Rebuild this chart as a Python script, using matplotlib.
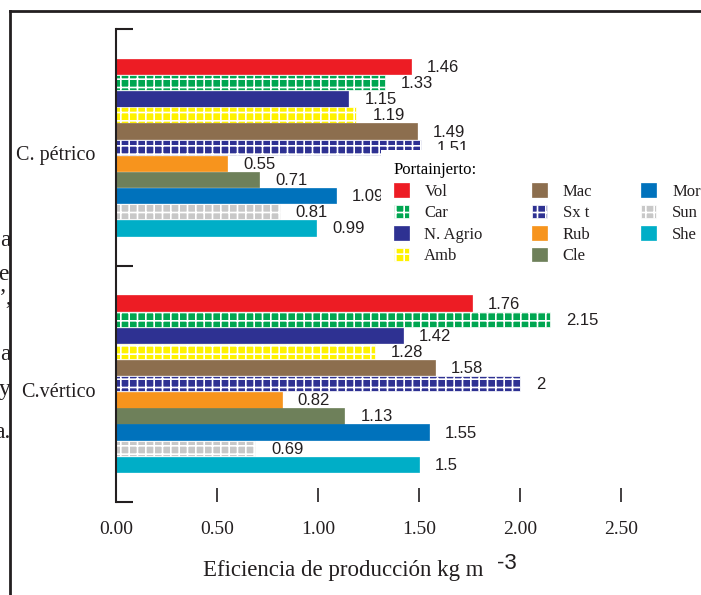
import numpy as np
import matplotlib
matplotlib.use('Agg')
from matplotlib import pyplot as plt
from matplotlib.patches import Patch
from matplotlib.lines import Line2D
from matplotlib.transforms import ScaledTranslation, Bbox

W, H = 701, 595

suelos = ['C. pétrico', 'C.vértico']
portainjertos = ['Vol', 'Car', 'N. Agrio', 'Amb', 'Mac', 'Sx t', 'Rub', 'Cle', 'Mor', 'Sun', 'She']
petrico = [1.46, 1.33, 1.15, 1.19, 1.49, 1.51, 0.55, 0.71, 1.09, 0.81, 0.99]
vertico = [1.76, 2.15, 1.42, 1.28, 1.58, 2, 0.82, 1.13, 1.55, 0.69, 1.5]
colores = ['#ED1C24', '#00A651', '#2E3192', '#FFF200', '#8C6E4E', '#2E3192',
           '#F7941D', '#6E805A', '#0072BC', '#C8C8C8', '#00AEC7']
tramas = ['', '++', '', '++', '', '++', '', '', '', '++', '']
xticks = [0, 0.5, 1.0, 1.5, 2.0, 2.5]
xticklabels = ['0.00', '0.50', '1.00', '1.50', '2.00', '2.50']

plt.rcParams['hatch.linewidth'] = 1.2
tinta = '#231F20'
serif = 'Liberation Serif'

fig = plt.figure(figsize=(W/100, H/100), dpi=100)
ax = fig.add_axes([116/W, 1 - 502/H, 2.89*202/W, 473/H])

n = len(portainjertos)
slot = 0.75/n
for k, valores in enumerate([petrico, vertico]):
	for j in range(n):
		y = k - 0.375 + slot*(j + 0.5)
		v = valores[j]
		ec = 'white' if tramas[j] else colores[j]
		ax.barh(y, v, height=slot*0.96, color=colores[j], hatch=tramas[j],
				edgecolor=ec, linewidth=0.5, zorder=2)
		ax.annotate('{:g}'.format(v), (v, y), xytext=(16, -1), textcoords='offset pixels',
					va='center', ha='left', fontsize=12, family='Liberation Sans',
					color=tinta, zorder=1)

ax.set_xlim(0, 2.89)
ax.set_ylim(1.5, -0.5)

for s in ['top', 'right', 'bottom']:
	ax.spines[s].set_visible(False)
ax.spines['left'].set_linewidth(1.5)
ax.spines['left'].set_color(tinta)

ax.set_yticks([-0.5, 0.5, 1.5], minor=True)
ax.tick_params(axis='y', which='minor', direction='in', length=12, width=1.5, color=tinta)
ax.set_yticks([0, 1])
ax.set_yticklabels(suelos, fontsize=14.5, family=serif, color=tinta)
ax.tick_params(axis='y', which='major', length=0, pad=15)
for lbl in ax.get_yticklabels():
	lbl.set_transform(lbl.get_transform() + ScaledTranslation(0, -0.06, fig.dpi_scale_trans))

ax.set_xticks(xticks)
ax.set_xticklabels(xticklabels, fontsize=14, family=serif, color=tinta)
ax.tick_params(axis='x', direction='in', length=10, width=1.2, color=tinta, pad=14)

# titulo del eje x con el exponente aparte
fig.text(203/W, 1 - 576/H, 'Eficiencia de producción kg m', fontsize=16.5, family=serif,
		 color=tinta, va='baseline', ha='left')
fig.text(497/W, 1 - 569/H, '-3', fontsize=16, family='Liberation Sans',
		 color=tinta, va='baseline', ha='left')

handles = [Patch(facecolor=colores[j], hatch=tramas[j],
				 edgecolor='white' if tramas[j] else colores[j], linewidth=0.5)
		   for j in range(n)]
leg = ax.legend(handles, portainjertos, ncol=3, title='Portainjerto:', loc='upper left',
				bbox_to_anchor=(381/W, 1 - 150/H), bbox_transform=fig.transFigure,
				frameon=True, fancybox=False, framealpha=1, facecolor='white', edgecolor='none',
				prop={'family': serif, 'size': 12}, title_fontproperties={'family': serif, 'size': 12},
				handlelength=0.9, handleheight=0.85, handletextpad=0.95, columnspacing=2.95,
				labelspacing=0.3, borderpad=0.75, borderaxespad=0, alignment='left')
leg.set_zorder(5)
for t in leg.get_texts():
	t.set_color(tinta)

# marco y restos de texto de la pagina, recortados por el marco
fig.add_artist(Line2D([10/W, 1], [1 - 11/H, 1 - 11/H], transform=fig.transFigure, lw=2, color=tinta, zorder=10))
fig.add_artist(Line2D([10/W, 10/W], [1 - 11/H, 0], transform=fig.transFigure, lw=2, color=tinta, zorder=10))
recorte = Bbox.from_extents(0, 0, 10, H)
restos = [('a', 0, 240), ('e', -2, 275), ('’,', -1, 298), ('a', 0, 354), ('y', -1, 390), ('a.', -6, 432)]
for s, xp, yp in restos:
	t = fig.text(xp/W, 1 - yp/H, s, fontsize=17, family=serif, color=tinta, va='center', ha='left')
	t.set_clip_box(recorte)
	t.set_clip_on(True)

fig.savefig('out.png', dpi=100)
